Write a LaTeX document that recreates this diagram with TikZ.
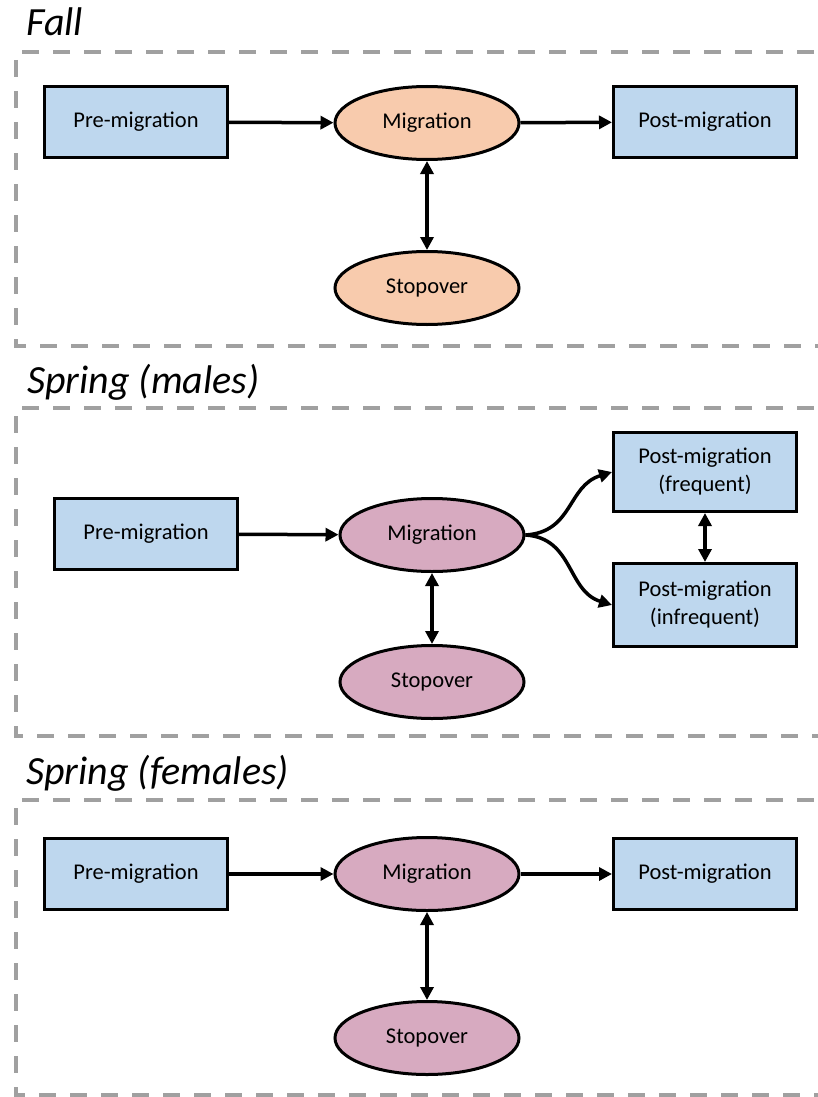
\documentclass[tikz,border=0pt]{standalone}
\usepackage{fontspec}
\setmainfont{Carlito}
\usetikzlibrary{arrows.meta,shapes.geometric}
\definecolor{boxblue}{RGB}{190,215,238}
\definecolor{peach}{RGB}{248,203,173}
\definecolor{mauve}{RGB}{215,170,192}
\definecolor{dashgray}{RGB}{160,160,160}
\begin{document}
\begin{tikzpicture}[x=1pt,y=-1pt,
    stage/.style={draw, line width=3pt, fill=boxblue, minimum width=183pt, minimum height=71pt, inner sep=0pt, align=center, font=\fontsize{22.5}{28}\selectfont},
    phase/.style={ellipse, draw, line width=3pt, minimum width=184pt, minimum height=73pt, inner sep=0pt, font=\fontsize{22.5}{28}\selectfont},
    season/.style={anchor=base west, inner sep=0pt, font=\fontsize{40}{44}\selectfont\itshape},
    frame/.style={dashgray, line width=4pt, dash pattern=on 17pt off 14pt},
    flow/.style={-{Triangle[length=13pt,width=13pt]}, line width=3.5pt},
    swap/.style={{Triangle[length=13pt,width=13pt]}-{Triangle[length=13pt,width=13pt]}, line width=3.5pt}]
    \useasboundingbox (0,0) rectangle (817,1097);

    % Fall
    \node[season] (fall) at (26,36) {Fall};
    \draw[frame] (845,52) -| (16,346) -- (845,346);
    \node[stage] (fpre) at (136,122) {Pre-migration};
    \node[phase, fill=peach] (fmig) at (427,123) {Migration};
    \node[stage] (fpost) at (705,122) {Post-migration};
    \node[phase, fill=peach] (fstop) at (427,288) {Stopover};
    \draw[flow] (fpre) -- (fmig);
    \draw[flow] (fmig) -- (fpost);
    \draw[swap] (fmig) -- (fstop);

    % Spring (males)
    \node[season] (males) at (27,393) {Spring (males)};
    \draw[frame] (845,408) -| (16,736) -- (845,736);
    \node[stage] (mpre) at (146,534) {Pre-migration};
    \node[phase, fill=mauve] (mmig) at (432,535) {Migration};
    \node[stage, minimum height=79pt] (mfreq) at (705,472) {Post-migration\\(frequent)};
    \node[stage, minimum height=83pt] (minfreq) at (705,605) {Post-migration\\(infrequent)};
    \node[phase, fill=mauve] (mstop) at (432,682) {Stopover};
    \draw[flow] (mpre) -- (mmig);
    \draw[flow] (mmig.east) .. controls +(48,-3) and +(-45,14) .. (mfreq.west);
    \draw[flow] (mmig.east) .. controls +(48,3) and +(-45,-14) .. (minfreq.west);
    \draw[swap] (mfreq) -- (minfreq);
    \draw[swap] (mmig) -- (mstop);

    % Spring (females)
    \node[season] (females) at (26,784) {Spring (females)};
    \draw[frame] (845,800) -| (16,1095) -- (845,1095);
    \node[stage] (wpre) at (136,874) {Pre-migration};
    \node[phase, fill=mauve] (wmig) at (427,874) {Migration};
    \node[stage] (wpost) at (705,874) {Post-migration};
    \node[phase, fill=mauve] (wstop) at (427,1038) {Stopover};
    \draw[flow] (wpre) -- (wmig);
    \draw[flow] (wmig) -- (wpost);
    \draw[swap] (wmig) -- (wstop);
\end{tikzpicture}
\end{document}
